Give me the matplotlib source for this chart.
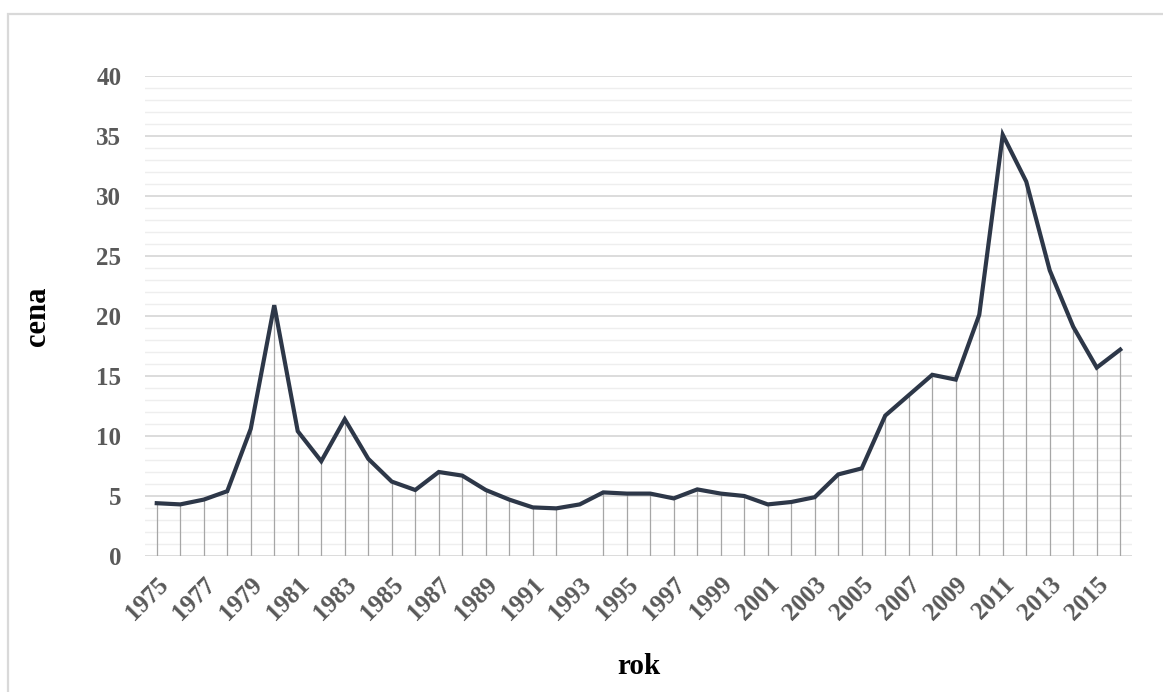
import numpy as np
import matplotlib
matplotlib.use("Agg")
from matplotlib import pyplot as plt
from matplotlib.patches import Rectangle
from matplotlib.ticker import MultipleLocator

years = list(range(1975, 2017))
cena = [4.4, 4.3, 4.7, 5.4, 10.6, 20.9, 10.4, 7.9, 11.4, 8.1,
        6.2, 5.5, 7.0, 6.7, 5.5, 4.7, 4.05, 3.97, 4.3, 5.3,
        5.2, 5.2, 4.8, 5.55, 5.2, 5.0, 4.3, 4.5, 4.9, 6.8,
        7.3, 11.7, 13.4, 15.1, 14.7, 20.1, 35.1, 31.2, 23.8, 19.1,
        15.7, 17.2]
# years without a drop line
no_drop = [1993]

plt.rcParams["font.family"] = ["Liberation Serif", "DejaVu Serif"]
plt.rcParams["font.weight"] = "bold"

fig = plt.figure(figsize=(11.63, 6.92), dpi=100)
ax = fig.add_axes([145 / 1163, 1 - 556 / 692, 987 / 1163, 480 / 692])

x = np.arange(len(years))
for xi, yr, val in zip(x, years, cena):
    if yr in no_drop:
        continue
    ax.plot([xi, xi], [0, val], color="#a6a6a6", lw=0.9, zorder=2)
ax.plot(x, cena, color="#2d3748", lw=3.0, solid_joinstyle="miter", zorder=3)

ax.set_xlim(-0.5, len(years) - 0.5)
ax.set_ylim(0, 40)
ax.yaxis.set_major_locator(MultipleLocator(5))
ax.yaxis.set_minor_locator(MultipleLocator(1))
ax.grid(axis="y", which="major", color="#d9d9d9", lw=1.3, zorder=0)
ax.grid(axis="y", which="minor", color="#eeeeee", lw=1.0, zorder=0)
ax.set_axisbelow(True)

for s in ax.spines.values():
    s.set_visible(False)

ax.set_xticks(x[::2])
ax.set_xticklabels([str(y) for y in years[::2]], rotation=45, ha="right",
                   rotation_mode="anchor")
ax.tick_params(axis="both", which="both", length=0)
ax.tick_params(axis="both", labelsize=18, labelcolor="#595959")
ax.tick_params(axis="y", pad=17)
ax.tick_params(axis="x", pad=12)

ax.set_ylabel("cena", fontsize=22, fontweight="bold")
ax.yaxis.set_label_coords(-0.094, 0.5)
ax.set_xlabel("rok", fontsize=21, fontweight="bold", va="top")
ax.xaxis.set_label_coords(0.5, -0.203)

# light frame around the chart area
fig.patches.append(Rectangle((8 / 1163, -0.1), 1.2, 1 - 14 / 692 + 0.1,
                             transform=fig.transFigure, fill=False,
                             edgecolor="#d9d9d9", lw=1.6))

fig.savefig("out.png", dpi=100)
